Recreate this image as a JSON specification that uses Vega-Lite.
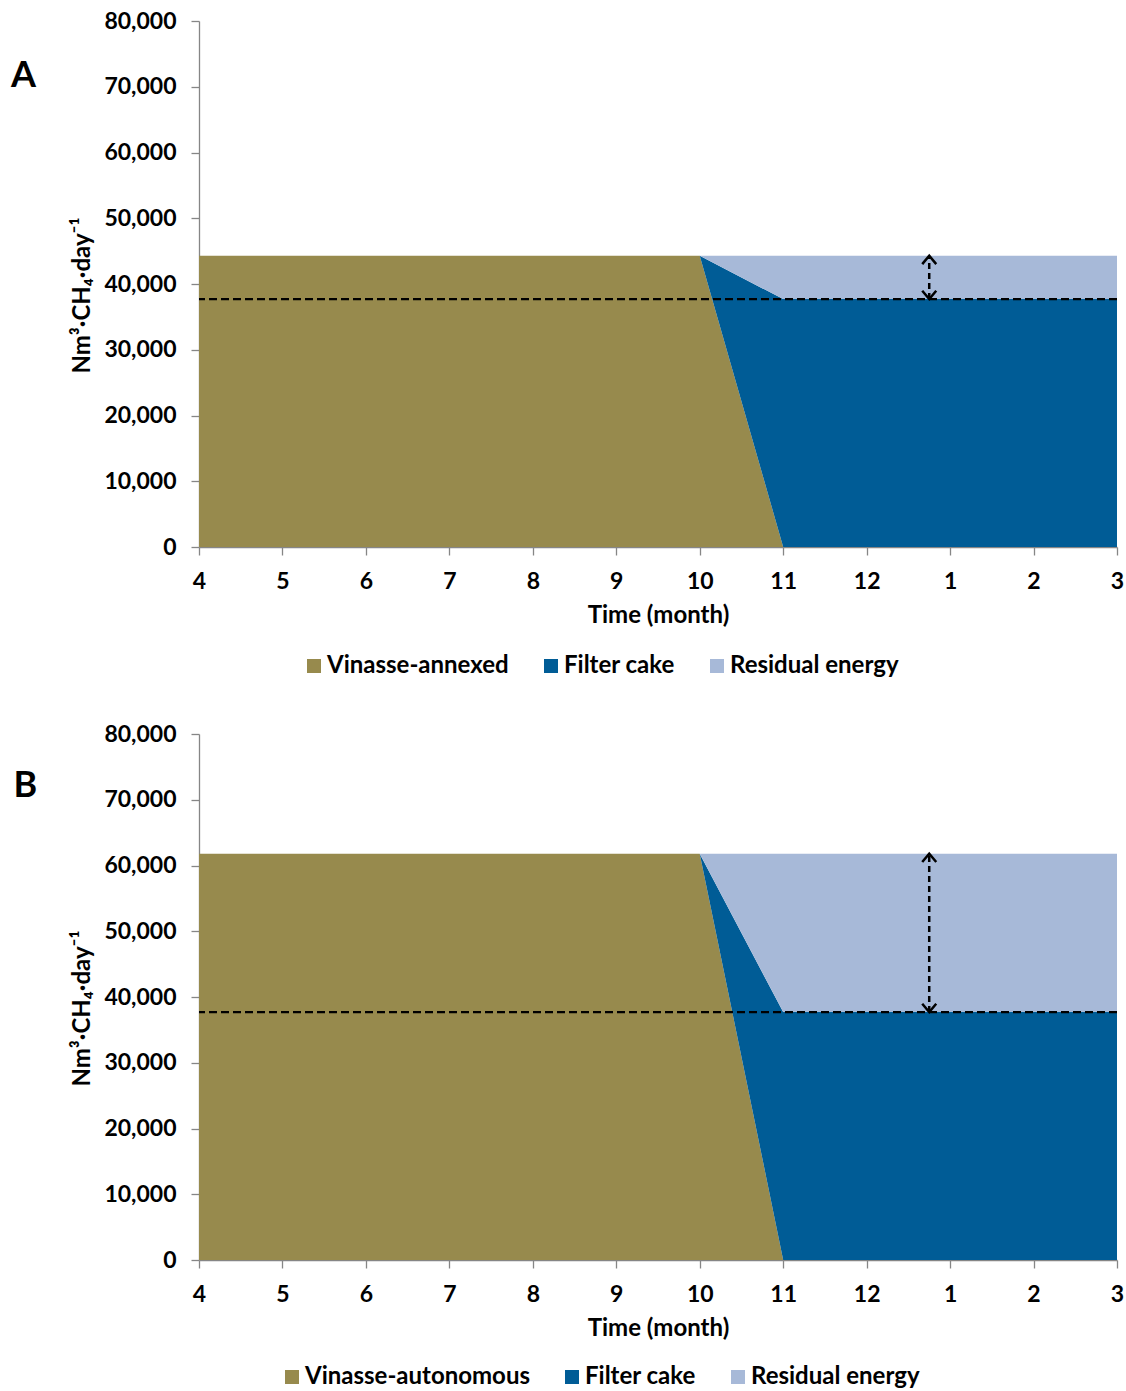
{
  "$schema": "https://vega.github.io/schema/vega-lite/v6.json",
  "padding": {"left": 10, "top": 10, "right": 9, "bottom": 0},
  "background": "#ffffff",
  "config": {
    "font": "Lato",
    "view": {"stroke": null},
    "axis": {
      "labelFont": "Lato", "labelFontWeight": "bold", "labelFontSize": 23, "labelColor": "#000000",
      "titleFont": "Lato", "titleFontWeight": "bold", "titleFontSize": 24, "titleColor": "#000000",
      "domainColor": "#868686", "tickColor": "#868686", "domainWidth": 1.3, "tickWidth": 1.3,
      "grid": false, "tickSize": 8, "labelPadding": 15
    },
    "legend": {
      "orient": "none", "direction": "horizontal", "symbolType": "square", "symbolSize": 196,
      "labelFont": "Lato", "labelFontSize": 24, "labelFontWeight": "bold", "labelColor": "#000000",
      "columnPadding": 30, "labelOffset": 1, "symbolStrokeWidth": 0, "symbolOpacity": 1, "labelLimit": 0
    },
    "title": {"font": "Lato", "fontWeight": "bold", "color": "#000000"}
  },
  "spacing": 45,
  "resolve": {"scale": {"color": "independent", "shape": "independent"}, "legend": {"color": "independent"}},
  "vconcat": [
    {
      "width": 918, "height": 526,
      "title": {"text": "A", "orient": "left", "anchor": "end", "angle": 0, "align": "right", "baseline": "top", "fontSize": 36, "offset": 10, "dy": 49},
      "layer": [
        {
          "data": {"values": [
            {"month": 4, "source": "Vinasse-annexed", "rank": 1, "value": 44300},
            {"month": 5, "source": "Vinasse-annexed", "rank": 1, "value": 44300},
            {"month": 6, "source": "Vinasse-annexed", "rank": 1, "value": 44300},
            {"month": 7, "source": "Vinasse-annexed", "rank": 1, "value": 44300},
            {"month": 8, "source": "Vinasse-annexed", "rank": 1, "value": 44300},
            {"month": 9, "source": "Vinasse-annexed", "rank": 1, "value": 44300},
            {"month": 10, "source": "Vinasse-annexed", "rank": 1, "value": 44300},
            {"month": 11, "source": "Vinasse-annexed", "rank": 1, "value": 0},
            {"month": 12, "source": "Vinasse-annexed", "rank": 1, "value": 0},
            {"month": 13, "source": "Vinasse-annexed", "rank": 1, "value": 0},
            {"month": 14, "source": "Vinasse-annexed", "rank": 1, "value": 0},
            {"month": 15, "source": "Vinasse-annexed", "rank": 1, "value": 0},
            {"month": 4, "source": "Filter cake", "rank": 2, "value": 0},
            {"month": 5, "source": "Filter cake", "rank": 2, "value": 0},
            {"month": 6, "source": "Filter cake", "rank": 2, "value": 0},
            {"month": 7, "source": "Filter cake", "rank": 2, "value": 0},
            {"month": 8, "source": "Filter cake", "rank": 2, "value": 0},
            {"month": 9, "source": "Filter cake", "rank": 2, "value": 0},
            {"month": 10, "source": "Filter cake", "rank": 2, "value": 0},
            {"month": 11, "source": "Filter cake", "rank": 2, "value": 37700},
            {"month": 12, "source": "Filter cake", "rank": 2, "value": 37700},
            {"month": 13, "source": "Filter cake", "rank": 2, "value": 37700},
            {"month": 14, "source": "Filter cake", "rank": 2, "value": 37700},
            {"month": 15, "source": "Filter cake", "rank": 2, "value": 37700},
            {"month": 4, "source": "Residual energy", "rank": 3, "value": 0},
            {"month": 5, "source": "Residual energy", "rank": 3, "value": 0},
            {"month": 6, "source": "Residual energy", "rank": 3, "value": 0},
            {"month": 7, "source": "Residual energy", "rank": 3, "value": 0},
            {"month": 8, "source": "Residual energy", "rank": 3, "value": 0},
            {"month": 9, "source": "Residual energy", "rank": 3, "value": 0},
            {"month": 10, "source": "Residual energy", "rank": 3, "value": 0},
            {"month": 11, "source": "Residual energy", "rank": 3, "value": 6600},
            {"month": 12, "source": "Residual energy", "rank": 3, "value": 6600},
            {"month": 13, "source": "Residual energy", "rank": 3, "value": 6600},
            {"month": 14, "source": "Residual energy", "rank": 3, "value": 6600},
            {"month": 15, "source": "Residual energy", "rank": 3, "value": 6600}
          ]},
          "mark": {"type": "area", "interpolate": "linear", "opacity": 1},
          "encoding": {
            "x": {"field": "month", "type": "quantitative",
                  "scale": {"domain": [4, 15], "nice": false, "zero": false},
                  "axis": {"title": "Time (month)", "values": [4,5,6,7,8,9,10,11,12,13,14,15],
                           "labelExpr": "datum.value > 12 ? datum.value - 12 : datum.value",
                           "titlePadding": 10, "labelFlush": false, "labelOverlap": false}},
            "y": {"field": "value", "type": "quantitative", "stack": "zero",
                  "scale": {"domain": [0, 80000], "nice": false},
                  "axis": {"title": "Nm³·CH₄·day⁻¹", "values": [0,5000,10000,15000,20000,25000,30000,35000,40000,45000,50000,55000,60000,65000,70000,75000,80000],
                           "labelExpr": "datum.value % 10000 === 0 ? format(datum.value, ',') : ''",
                           "titlePadding": 9, "titleY": 274, "labelOverlap": false}},
            "color": {"field": "source", "type": "nominal",
                      "scale": {"domain": ["Vinasse-annexed", "Filter cake", "Residual energy"], "range": ["#978A4D", "#005C96", "#A7B9D8"]},
                      "legend": {"title": null, "legendX": 103, "legendY": 633}},
            "order": {"field": "rank", "type": "quantitative"}
          }
        },
        {
          "data": {"values": [{"level": 37700}]},
          "mark": {"type": "rule", "strokeDash": [8, 4], "strokeWidth": 2.3, "color": "#000000"},
          "encoding": {"y": {"field": "level", "type": "quantitative"}}
        },
        {
          "data": {"values": [{"pos": 12.75, "low": 37700, "high": 44300}]},
          "mark": {"type": "rule", "strokeDash": [6, 4], "strokeWidth": 2.5, "color": "#000000"},
          "encoding": {"x": {"field": "pos", "type": "quantitative"}, "y": {"field": "low", "type": "quantitative"}, "y2": {"field": "high"}}
        },
        {
          "data": {"values": [{"pos": 12.75, "tip": 44300, "dir": "up"}, {"pos": 12.75, "tip": 37700, "dir": "down"}]},
          "mark": {"type": "point", "filled": false, "color": "#000000", "strokeWidth": 2.5, "size": 196, "opacity": 1},
          "encoding": {
            "x": {"field": "pos", "type": "quantitative"},
            "y": {"field": "tip", "type": "quantitative"},
            "shape": {"field": "dir", "type": "nominal", "scale": {"domain": ["up", "down"], "range": ["M-1,1.2L0,0L1,1.2", "M-1,-1.2L0,0L1,-1.2"]}, "legend": null}
          }
        }
      ]
    },
    {
      "width": 918, "height": 526,
      "title": {"text": "B", "orient": "left", "anchor": "end", "angle": 0, "align": "right", "baseline": "top", "fontSize": 36, "offset": 10, "dy": 46},
      "layer": [
        {
          "data": {"values": [
            {"month": 4, "source": "Vinasse-autonomous", "rank": 1, "value": 61800},
            {"month": 5, "source": "Vinasse-autonomous", "rank": 1, "value": 61800},
            {"month": 6, "source": "Vinasse-autonomous", "rank": 1, "value": 61800},
            {"month": 7, "source": "Vinasse-autonomous", "rank": 1, "value": 61800},
            {"month": 8, "source": "Vinasse-autonomous", "rank": 1, "value": 61800},
            {"month": 9, "source": "Vinasse-autonomous", "rank": 1, "value": 61800},
            {"month": 10, "source": "Vinasse-autonomous", "rank": 1, "value": 61800},
            {"month": 11, "source": "Vinasse-autonomous", "rank": 1, "value": 0},
            {"month": 12, "source": "Vinasse-autonomous", "rank": 1, "value": 0},
            {"month": 13, "source": "Vinasse-autonomous", "rank": 1, "value": 0},
            {"month": 14, "source": "Vinasse-autonomous", "rank": 1, "value": 0},
            {"month": 15, "source": "Vinasse-autonomous", "rank": 1, "value": 0},
            {"month": 4, "source": "Filter cake", "rank": 2, "value": 0},
            {"month": 5, "source": "Filter cake", "rank": 2, "value": 0},
            {"month": 6, "source": "Filter cake", "rank": 2, "value": 0},
            {"month": 7, "source": "Filter cake", "rank": 2, "value": 0},
            {"month": 8, "source": "Filter cake", "rank": 2, "value": 0},
            {"month": 9, "source": "Filter cake", "rank": 2, "value": 0},
            {"month": 10, "source": "Filter cake", "rank": 2, "value": 0},
            {"month": 11, "source": "Filter cake", "rank": 2, "value": 37700},
            {"month": 12, "source": "Filter cake", "rank": 2, "value": 37700},
            {"month": 13, "source": "Filter cake", "rank": 2, "value": 37700},
            {"month": 14, "source": "Filter cake", "rank": 2, "value": 37700},
            {"month": 15, "source": "Filter cake", "rank": 2, "value": 37700},
            {"month": 4, "source": "Residual energy", "rank": 3, "value": 0},
            {"month": 5, "source": "Residual energy", "rank": 3, "value": 0},
            {"month": 6, "source": "Residual energy", "rank": 3, "value": 0},
            {"month": 7, "source": "Residual energy", "rank": 3, "value": 0},
            {"month": 8, "source": "Residual energy", "rank": 3, "value": 0},
            {"month": 9, "source": "Residual energy", "rank": 3, "value": 0},
            {"month": 10, "source": "Residual energy", "rank": 3, "value": 0},
            {"month": 11, "source": "Residual energy", "rank": 3, "value": 24100},
            {"month": 12, "source": "Residual energy", "rank": 3, "value": 24100},
            {"month": 13, "source": "Residual energy", "rank": 3, "value": 24100},
            {"month": 14, "source": "Residual energy", "rank": 3, "value": 24100},
            {"month": 15, "source": "Residual energy", "rank": 3, "value": 24100}
          ]},
          "mark": {"type": "area", "interpolate": "linear", "opacity": 1},
          "encoding": {
            "x": {"field": "month", "type": "quantitative",
                  "scale": {"domain": [4, 15], "nice": false, "zero": false},
                  "axis": {"title": "Time (month)", "values": [4,5,6,7,8,9,10,11,12,13,14,15],
                           "labelExpr": "datum.value > 12 ? datum.value - 12 : datum.value",
                           "titlePadding": 10, "labelFlush": false, "labelOverlap": false}},
            "y": {"field": "value", "type": "quantitative", "stack": "zero",
                  "scale": {"domain": [0, 80000], "nice": false},
                  "axis": {"title": "Nm³·CH₄·day⁻¹", "values": [0,5000,10000,15000,20000,25000,30000,35000,40000,45000,50000,55000,60000,65000,70000,75000,80000],
                           "labelExpr": "datum.value % 10000 === 0 ? format(datum.value, ',') : ''",
                           "titlePadding": 9, "titleY": 274, "labelOverlap": false}},
            "color": {"field": "source", "type": "nominal",
                      "scale": {"domain": ["Vinasse-autonomous", "Filter cake", "Residual energy"], "range": ["#978A4D", "#005C96", "#A7B9D8"]},
                      "legend": {"title": null, "legendX": 81, "legendY": 631}},
            "order": {"field": "rank", "type": "quantitative"}
          }
        },
        {
          "data": {"values": [{"level": 37700}]},
          "mark": {"type": "rule", "strokeDash": [8, 4], "strokeWidth": 2.3, "color": "#000000"},
          "encoding": {"y": {"field": "level", "type": "quantitative"}}
        },
        {
          "data": {"values": [{"pos": 12.75, "low": 37700, "high": 61800}]},
          "mark": {"type": "rule", "strokeDash": [6, 4], "strokeWidth": 2.5, "color": "#000000"},
          "encoding": {"x": {"field": "pos", "type": "quantitative"}, "y": {"field": "low", "type": "quantitative"}, "y2": {"field": "high"}}
        },
        {
          "data": {"values": [{"pos": 12.75, "tip": 61800, "dir": "up"}, {"pos": 12.75, "tip": 37700, "dir": "down"}]},
          "mark": {"type": "point", "filled": false, "color": "#000000", "strokeWidth": 2.5, "size": 196, "opacity": 1},
          "encoding": {
            "x": {"field": "pos", "type": "quantitative"},
            "y": {"field": "tip", "type": "quantitative"},
            "shape": {"field": "dir", "type": "nominal", "scale": {"domain": ["up", "down"], "range": ["M-1,1.2L0,0L1,1.2", "M-1,-1.2L0,0L1,-1.2"]}, "legend": null}
          }
        }
      ]
    }
  ]
}
